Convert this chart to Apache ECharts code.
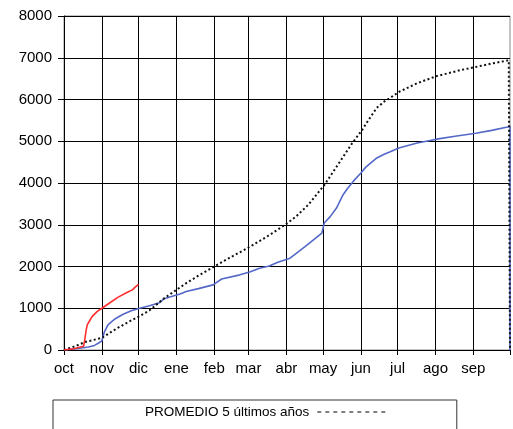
<!DOCTYPE html>
<html>
<head>
<meta charset="utf-8">
<script src="https://cdn.jsdelivr.net/npm/echarts@6/dist/echarts.min.js"></script>
<style>
html,body{margin:0;padding:0;background:#fff;}
#c{width:513px;height:429px;}
</style>
</head>
<body>
<div id="c"></div>
<script>
// Days since 1 October (0..365)
var monthStarts = [0, 31, 61, 92, 123, 151, 182, 212, 243, 273, 304, 335, 365];
var monthLabels = ['oct', 'nov', 'dic', 'ene', 'feb', 'mar', 'abr', 'may', 'jun', 'jul', 'ago', 'sep', ''];
var yTicks = [0, 1000, 2000, 3000, 4000, 5000, 6000, 7000, 8000];
var legendName = 'PROMEDIO 5 últimos años';

// Current season (red)
var actual = [[0,0],[8,30],[16,90],[17,250],[18,450],[19,600],[21,700],[23,800],[27,920],[31,1000],[37,1120],[44,1260],[51,1370],[56,1440],[58,1500],[61,1570]];

// Previous season (blue)
var anterior = [[0,0],[10,30],[20,70],[25,110],[29,180],[31,220],[33,430],[36,600],[39,680],[42,750],[48,850],[55,940],[62,1000],[70,1060],[78,1130],[82,1230],[88,1280],[95,1340],[100,1400],[110,1470],[122,1560],[125,1620],[129,1700],[144,1800],[152,1870],[160,1960],[168,2010],[175,2100],[185,2200],[197,2470],[209,2750],[211,2800],[213,3040],[218,3200],[223,3400],[228,3700],[232,3870],[237,4050],[243,4240],[247,4380],[256,4600],[262,4690],[267,4750],[274,4840],[289,4960],[305,5050],[320,5120],[337,5190],[350,5260],[363,5340],[365,5360],[365,0]];

// PROMEDIO 5 últimos años (black dotted)
var promedio = [[0,0],[10,100],[17,190],[31,290],[38,420],[44,530],[52,660],[61,800],[70,950],[82,1240],[92,1440],[100,1600],[110,1780],[123,2000],[135,2200],[152,2470],[168,2750],[183,3040],[190,3200],[200,3480],[213,3950],[224,4430],[236,4960],[244,5270],[249,5500],[256,5800],[262,5950],[267,6040],[274,6180],[289,6390],[305,6560],[324,6700],[337,6780],[350,6860],[364,6940],[365,6950],[365,0]];

var days = [];
for (var i = 0; i <= 365; i++) days.push(i);
function isMonthStart(idx) { return monthStarts.indexOf(idx) >= 0; }

var chart = echarts.init(document.getElementById('c'), null, {renderer: 'canvas'});
chart.setOption({
  animation: false,
  backgroundColor: '#fff',
  textStyle: {fontFamily: 'Liberation Sans, Arial, sans-serif'},
  grid: {left: 64, right: 3, top: 16, bottom: 79, containLabel: false, show: true, borderColor: '#8a8a8a', borderWidth: 1, backgroundColor: 'transparent'},
  legend: {
    data: [legendName],
    left: 53, top: 400,
    align: 'right',
    selectedMode: false,
    itemWidth: 72, itemHeight: 14,
    padding: [5, 67, 30, 92],
    borderColor: '#333', borderWidth: 1, backgroundColor: '#fff',
    itemStyle: {color: 'transparent', borderWidth: 0, opacity: 0},
    lineStyle: {color: '#000', width: 1, type: [4, 4]},
    textStyle: {color: '#000', fontSize: 13.5, fontFamily: 'Liberation Sans, Arial, sans-serif', padding: [0, 3, 0, 0]}
  },
  xAxis: {
    type: 'category', data: days, boundaryGap: false,
    axisLine: {show: true, lineStyle: {color: '#000', width: 1}},
    axisTick: {show: true, length: 5, interval: function (idx) { return isMonthStart(idx); }, lineStyle: {color: '#000'}},
    axisLabel: {interval: function (idx) { return isMonthStart(idx); },
      formatter: function (v) { var k = monthStarts.indexOf(Number(v)); return k >= 0 ? monthLabels[k] : ''; },
      color: '#000', fontSize: 15, margin: 11},
    splitLine: {show: true, interval: function (idx) { return isMonthStart(idx) && idx !== 365; }, lineStyle: {color: '#000', width: 1}}
  },
  yAxis: {
    type: 'value', min: yTicks[0], max: yTicks[yTicks.length - 1], interval: 1000,
    axisLine: {show: true, lineStyle: {color: '#000', width: 1}},
    axisTick: {show: true, length: 6, lineStyle: {color: '#000'}},
    axisLabel: {color: '#000', fontSize: 15, margin: 12, formatter: function (v) { return String(v); }},
    splitLine: {show: true, lineStyle: {color: '#000', width: 1}}
  },
  series: [
    {name: legendName, type: 'line', data: promedio, symbol: 'none', showSymbol: false, z: 3, itemStyle: {color: '#111'}, lineStyle: {color: '#111', width: 2, type: [2, 2.5]}},
    {name: 'anterior', type: 'line', data: anterior, symbol: 'none', showSymbol: false, z: 2, itemStyle: {color: '#5468c8'}, lineStyle: {color: '#5468c8', width: 1.6}},
    {name: 'actual', type: 'line', data: actual, symbol: 'none', showSymbol: false, z: 4, itemStyle: {color: '#ff2e2e'}, lineStyle: {color: '#ff2e2e', width: 1.6}}
  ]
});
</script>
</body>
</html>
